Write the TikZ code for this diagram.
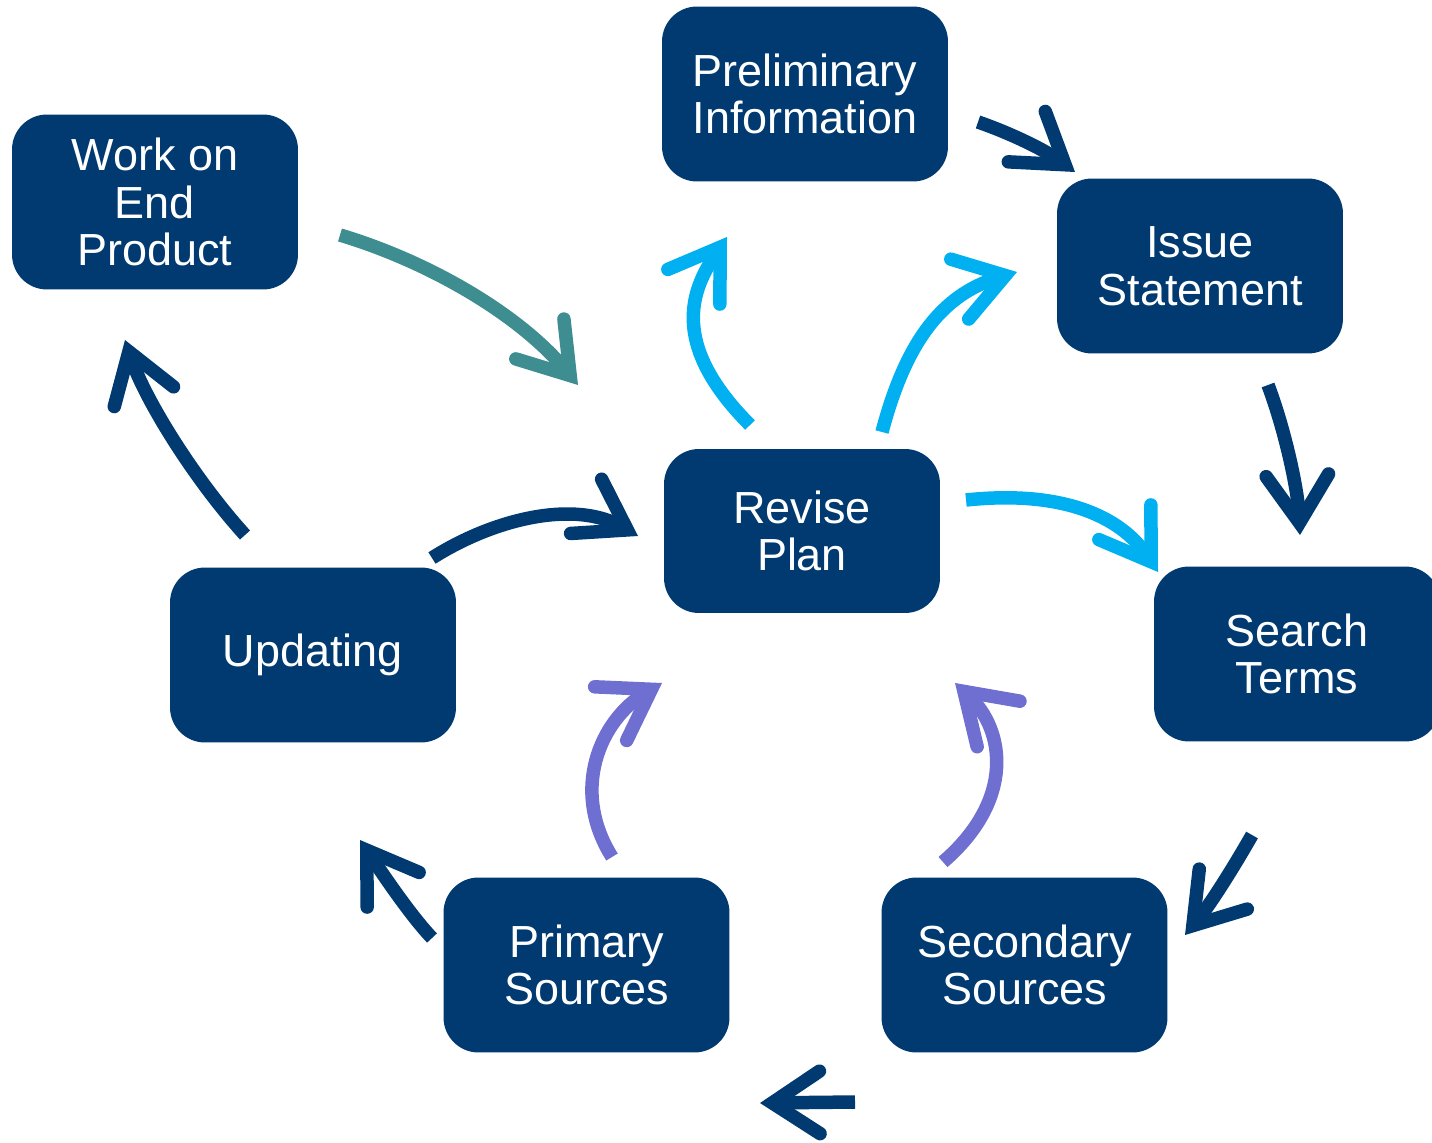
\documentclass[tikz,border=0pt]{standalone}
\usepackage{fontspec}
\setmainfont{Liberation Sans}
\usetikzlibrary{arrows.meta}

\definecolor{navy}{RGB}{0,58,112}
\definecolor{tealarrow}{RGB}{62,142,145}
\definecolor{skyarrow}{RGB}{0,176,240}
\definecolor{purplearrow}{RGB}{111,111,209}

\begin{document}
\begin{tikzpicture}[x=0.02cm,y=-0.02cm,line width=0.27cm]
    \tikzstyle{stage}=[rectangle,rounded corners=0.7cm,fill=navy,text=white,
        minimum width=5.72cm,minimum height=3.5cm,align=center,
        font=\fontsize{25.6}{27.2}\selectfont]
    \tikzstyle{flow}=[-{Straight Barb[length=0.95cm,width=1.25cm,line cap=round,line join=miter]}]

    \useasboundingbox (0,0) rectangle (1432,1142);
    \clip (0,0) rectangle (1432,1142);

    % Draw the stage boxes
    \node[stage] (prelim) at (805,94) {Preliminary\\Information};
    \node[stage] (work) at (155,202) {Work on\\End\\Product};
    \node[stage] (issue) at (1200,266) {Issue\\Statement};
    \node[stage,minimum width=5.52cm,minimum height=3.28cm] (revise) at (802,531) {Revise\\Plan};
    \node[stage] (updating) at (313,655) {Updating};
    \node[stage] (search) at (1297,654) {Search\\Terms};
    \node[stage] (primary) at (586.5,965) {Primary\\Sources};
    \node[stage] (secondary) at (1024.5,965) {Secondary\\Sources};

    % Free ends of the arrows
    \coordinate (prelim-out) at (978,122);   \coordinate (issue-in) at (1075,172);
    \coordinate (issue-out) at (1268,385);   \coordinate (search-in) at (1300,535);
    \coordinate (search-out) at (1252,835);  \coordinate (secondary-in) at (1185,935);
    \coordinate (secondary-out) at (855,1102); \coordinate (primary-in) at (760,1103);
    \coordinate (primary-out) at (432,938);  \coordinate (updating-in) at (360,840);
    \coordinate (updating-out) at (245,535); \coordinate (work-in) at (125,340);
    \coordinate (work-out) at (340,235);     \coordinate (revise-in-1) at (578,385);
    \coordinate (revise-out-1) at (750,425); \coordinate (prelim-in) at (727,237);
    \coordinate (revise-out-2) at (882,432); \coordinate (issue-in-2) at (1017,272);
    \coordinate (revise-out-3) at (966,500); \coordinate (search-in-2) at (1158,572);
    \coordinate (updating-out-2) at (432,558); \coordinate (revise-in-2) at (638,536);
    \coordinate (primary-out-2) at (612,857); \coordinate (revise-in-3) at (662,683);
    \coordinate (secondary-out-2) at (943,862); \coordinate (revise-in-4) at (955,683);

    % Draw the outer cycle
    \draw[flow,navy] (prelim-out) .. controls (1010,133) and (1045,150) .. (issue-in);
    \draw[flow,navy] (issue-out) .. controls (1285,430) and (1298,490) .. (search-in);
    \draw[flow,navy] (search-out) .. controls (1235,865) and (1210,905) .. (secondary-in);
    \draw[flow,navy] (secondary-out) -- (primary-in);
    \draw[flow,navy] (primary-out) .. controls (410,915) and (380,870) .. (updating-in);
    \draw[flow,navy] (updating-out) .. controls (195,480) and (145,400) .. (work-in);
    \draw[flow,tealarrow] (work-out) .. controls (430,262) and (520,315) .. (revise-in-1);

    % Arrows out of and into the plan
    \draw[flow,skyarrow] (revise-out-1) .. controls (665,340) and (695,285) .. (prelim-in);
    \draw[flow,skyarrow] (revise-out-2) .. controls (905,345) and (940,295) .. (issue-in-2);
    \draw[flow,skyarrow] (revise-out-3) .. controls (1060,490) and (1120,515) .. (search-in-2);
    \draw[flow,navy] (updating-out-2) .. controls (495,518) and (575,500) .. (revise-in-2);
    \draw[flow,purplearrow] (primary-out-2) .. controls (570,790) and (600,720) .. (revise-in-3);
    \draw[flow,purplearrow] (secondary-out-2) .. controls (1015,800) and (1005,730) .. (revise-in-4);
\end{tikzpicture}
\end{document}
